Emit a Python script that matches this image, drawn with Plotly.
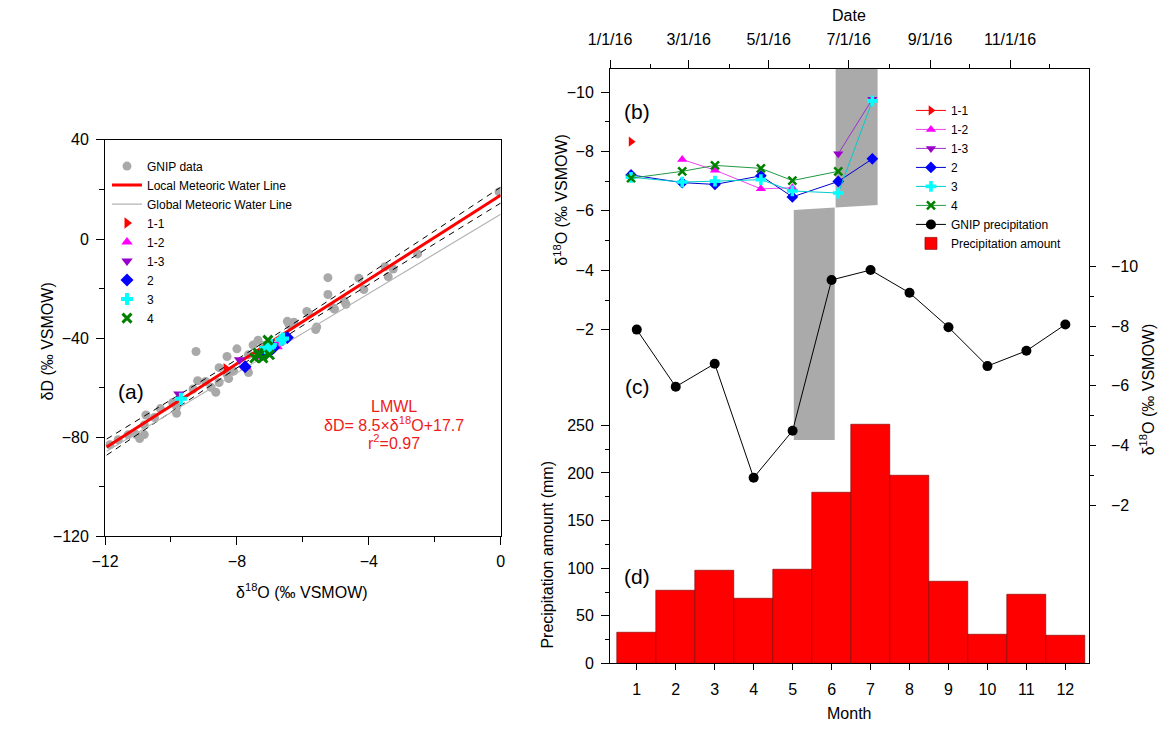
import plotly.graph_objects as go

W, H = 1167, 733
FONT = "Liberation Sans, Arial, sans-serif"

# ---------------- Panel (a): dD vs d18O ----------------
gnip_d18o = [-11.85, -11.6, -11.3, -11.06, -10.95, -10.81, -10.81, -10.76, -10.5, -10.32,
             -9.95, -9.83, -9.83, -9.33, -9.24, -9.19, -8.95, -8.79, -8.64, -8.54,
             -8.54, -8.30, -8.30, -8.25, -8.10, -8.0, -7.65, -7.65, -7.51, -7.36,
             -7.2, -6.47, -6.42, -6.27, -5.88, -5.83, -5.61, -5.58, -5.24, -5.24,
             -5.09, -5.04, -4.74, -4.69, -4.30, -4.15, -3.51, -3.41, -3.26, -2.52, -0.05]
gnip_dd = [-83.0, -81.0, -79.0, -78.9, -80.5, -75.0, -78.9, -71.0, -72.0, -68.4,
           -66.0, -67.7, -70.3, -60.5, -45.4, -57.2, -57.5, -59.8, -61.8, -51.9,
           -57.9, -47.4, -54.6, -56.3, -53.3, -44.3, -46.7, -53.9, -42.8, -40.8,
           -43.0, -33.2, -34.5, -33.6, -29.2, -30.0, -36.5, -35.5, -15.6, -22.4,
           -27.7, -28.3, -25.0, -26.3, -15.8, -20.4, -11.2, -15.2, -12.1, -6.0, 19.0]

lmwl_x = [-11.95, 0.0]
lmwl_y = [-83.9, 17.7]
gmwl_x = [-11.95, 0.0]
gmwl_y = [-85.6, 10.0]
band_x = [-11.95, -10, -8, -6, -4, -2, 0]
band_upper = [-80.7, -64.9, -48.6, -31.7, -14.3, 3.3, 20.9]
band_lower = [-87.2, -69.7, -52.0, -34.9, -18.3, -1.9, 14.5]

site_a = {
    "1-1": ([-8.33], [-52.3]),
    "1-2": ([-7.73, -7.37, -6.74, -6.78], [-51.5, -47.5, -42.0, -43.5]),
    "1-3": ([-7.92, -9.76], [-48.7, -62.5]),
    "2": ([-7.21, -6.95, -6.89, -7.18, -6.47, -6.99, -7.75], [-45.8, -44.5, -43.9, -46.0, -39.7, -45.0, -51.5]),
    "3": ([-7.13, -6.97, -7.0, -7.05, -6.67, -6.60, -9.70], [-44.0, -42.8, -43.5, -44.2, -40.6, -40.1, -64.4]),
    "4": ([-7.36, -7.21, -7.46, -7.06, -7.01, -7.33], [-46.0, -48.0, -48.0, -40.8, -46.7, -47.0]),
}

# ---------------- Panel (b): site d18O by date ----------------
b_dates = ["2016-01-17", "2016-02-25", "2016-03-21", "2016-04-25", "2016-05-19", "2016-06-23", "2016-07-19"]
site_b = {
    "1-1": (b_dates[0:1], [-8.33]),
    "1-2": (b_dates[1:5], [-7.73, -7.37, -6.74, -6.78]),
    "1-3": (b_dates[5:7], [-7.92, -9.76]),
    "2": (b_dates, [-7.21, -6.95, -6.89, -7.18, -6.47, -6.99, -7.75]),
    "3": (b_dates, [-7.13, -6.97, -7.0, -7.05, -6.67, -6.60, -9.70]),
    "4": (b_dates[0:6], [-7.10, -7.33, -7.53, -7.43, -7.02, -7.33]),
}

# ---------------- Panels (c) and (d): monthly ----------------
months = list(range(1, 13))
gnip_month_d18o = [-7.88, -5.97, -6.74, -2.93, -4.50, -9.54, -9.87, -9.11, -7.96, -6.66, -7.17, -8.05]
precip_mm = [32.2, 76.4, 97.3, 68.5, 99.0, 179.8, 251.0, 197.3, 86.3, 30.8, 72.6, 29.5]

date_ticks = ["2016-01-01", "2016-03-01", "2016-05-01", "2016-07-01", "2016-09-01", "2016-11-01"]
date_ticktext = ["1/1/16", "3/1/16", "5/1/16", "7/1/16", "9/1/16", "11/1/16"]
date_minor = ["2016-02-01", "2016-04-01", "2016-06-01", "2016-08-01", "2016-10-01", "2016-12-01"]

# shaded sampling period (upper: date axis / lower: month axis)
shade_dates = ["2016-06-21", "2016-07-23"]
shade_months = [5.03, 6.08]
shade_slant = [-6.03, -6.11, -6.20]   # left, junction, right (panel b units)
shade_bottom = 1.71

styles = {
    "1-1": dict(symbol="triangle-right", color="#ff0000", line="#ff0000"),
    "1-2": dict(symbol="triangle-up", color="#ff00ff", line="#ee44ee"),
    "1-3": dict(symbol="triangle-down", color="#9900cc", line="#9933cc"),
    "2": dict(symbol="diamond", color="#0000ff", line="#0000cc"),
    "3": dict(symbol="cross", color="#00ffff", line="#00cccc"),
    "4": dict(symbol="x-thin", color="#008000", line="#229944"),
}

fig = go.Figure()

# ---- (a) traces ----
fig.add_trace(go.Scatter(x=gnip_d18o, y=gnip_dd, mode="markers", name="GNIP data",
                         marker=dict(color="#a9a9a9", size=9), xaxis="x", yaxis="y",
                         legend="legend", legendrank=1))
fig.add_trace(go.Scatter(x=band_x, y=band_upper, mode="lines", showlegend=False,
                         line=dict(color="black", width=1, dash="6px,5px"), xaxis="x", yaxis="y"))
fig.add_trace(go.Scatter(x=band_x, y=band_lower, mode="lines", showlegend=False,
                         line=dict(color="black", width=1, dash="6px,5px"), xaxis="x", yaxis="y"))
fig.add_trace(go.Scatter(x=gmwl_x, y=gmwl_y, mode="lines", name="Global Meteoric Water Line",
                         line=dict(color="#b4b4b4", width=1.2), xaxis="x", yaxis="y",
                         legend="legend", legendrank=3))
fig.add_trace(go.Scatter(x=lmwl_x, y=lmwl_y, mode="lines", name="Local Meteoric Water Line",
                         line=dict(color="#ff0000", width=3), xaxis="x", yaxis="y",
                         legend="legend", legendrank=2))
for i, (k, (xs, ys)) in enumerate(site_a.items()):
    st = styles[k]
    mk = dict(symbol=st["symbol"], color=st["color"], size=10)
    if st["symbol"] == "x-thin":
        mk = dict(symbol="x-thin", size=9, line=dict(color=st["color"], width=3))
    fig.add_trace(go.Scatter(x=xs, y=ys, mode="markers", name=k, marker=mk,
                             xaxis="x", yaxis="y", legend="legend", legendrank=10 + i))

# ---- (d) bars ----
fig.add_trace(go.Bar(x=months, y=precip_mm, width=1.0, name="Precipitation amount",
                     marker=dict(color="#ff0000", line=dict(color="#7a0000", width=0.6)),
                     xaxis="x2", yaxis="y2", legend="legend2", legendrank=100))

# ---- (c) GNIP monthly line ----
fig.add_trace(go.Scatter(x=months, y=gnip_month_d18o, mode="lines+markers", name="GNIP precipitation",
                         line=dict(color="black", width=1), marker=dict(color="black", size=10),
                         xaxis="x2", yaxis="y4", legend="legend2", legendrank=90))

# ---- (b) site series ----
for i, (k, (xs, ys)) in enumerate(site_b.items()):
    st = styles[k]
    mk = dict(symbol=st["symbol"], color=st["color"], size=9)
    if st["symbol"] == "x-thin":
        mk = dict(symbol="x-thin", size=8, line=dict(color=st["color"], width=2.5))
    fig.add_trace(go.Scatter(x=xs, y=ys, mode="lines+markers", name=k, marker=mk,
                             line=dict(color=st["line"], width=1),
                             xaxis="x3", yaxis="y3", legend="legend2", legendrank=20 + i))

# ---- grey shading ----
upper_path = (f"M{shade_dates[0]},-12 L{shade_dates[1]},-12 "
              f"L{shade_dates[1]},{shade_slant[2]} L{shade_dates[0]},{shade_slant[1]} Z")
lower_path = (f"M{shade_months[0]},{shade_slant[0]} L{shade_months[1]},{shade_slant[1]} "
              f"L{shade_months[1]},{shade_bottom} L{shade_months[0]},{shade_bottom} Z")
shapes = [
    dict(type="path", path=upper_path, xref="x3", yref="y3", fillcolor="#aaaaaa",
         line=dict(width=0), layer="below"),
    dict(type="path", path=lower_path, xref="x2", yref="y3", fillcolor="#aaaaaa",
         line=dict(width=0), layer="below"),
]

tickfont = dict(family=FONT, size=16, color="black")
common = dict(showgrid=False, zeroline=False, showline=True, linecolor="black", linewidth=1,
              ticks="outside", tickcolor="black", tickwidth=1, tickfont=tickfont)

def minor(vals, ln=4):
    return dict(tickvals=vals, ticks="outside", ticklen=ln, tickcolor="black", tickwidth=1, showgrid=False)

layout = dict(
    width=W, height=H, margin=dict(l=0, r=0, t=0, b=0),
    paper_bgcolor="white", plot_bgcolor="rgba(0,0,0,0)",
    font=dict(family=FONT, size=16, color="black"),
    bargap=0, shapes=shapes,
    xaxis=dict(domain=[85 / W, 490 / W], range=[-12, 0], anchor="y",
               tickvals=[-12, -8, -4, 0], ticklen=8, mirror=True, ticklabelstandoff=2,
               minor=minor([-10, -6, -2], 5), **common),
    yaxis=dict(domain=[1 - 541 / H, 1 - 135 / H], range=[-120, 40], anchor="x",
               tickvals=[-120, -80, -40, 0, 40], ticklen=8, mirror=True, ticklabelstandoff=4,
               minor=minor([-100, -60, -20, 20], 5), **common),
    xaxis2=dict(domain=[602 / W, 1092 / W], range=[0.315, 12.6], anchor="y2",
                tickvals=months, ticklen=6, ticklabelstandoff=5, **common),
    yaxis2=dict(domain=[1 - 671 / H, 1 - 62 / H], range=[0, 624.7], anchor="x2",
                tickvals=[0, 50, 100, 150, 200, 250], ticklen=8, ticklabelstandoff=4,
                minor=minor([25, 75, 125, 175, 225]), **common),
    xaxis3=dict(overlaying="x2", side="top", anchor="y3", type="date",
                range=["2016-01-01", "2016-12-31"], tickvals=date_ticks, ticktext=date_ticktext,
                ticklen=8, ticklabelstandoff=8, minor=minor(date_minor), **common),
    yaxis3=dict(overlaying="y2", side="left", anchor="x3", range=[9.231, -10.789],
                tickvals=[-10, -8, -6, -4, -2], ticklen=8, ticklabelstandoff=4,
                minor=minor([-9, -7, -5, -3]), **common),
    yaxis4=dict(overlaying="y2", side="right", anchor="x2", range=[3.280, -16.606],
                tickvals=[-10, -8, -6, -4, -2], ticklen=6, ticklabelstandoff=12,
                minor=minor([-9, -7, -5, -3]), **common),
    legend=dict(x=87 / W, y=1 - 147 / H, xanchor="left", yanchor="top",
                bgcolor="rgba(0,0,0,0)", font=dict(family=FONT, size=12, color="black"),
                tracegroupgap=0, itemsizing="trace", traceorder="normal"),
    legend2=dict(x=910 / W, y=1 - 90 / H, xanchor="left", yanchor="top",
                 bgcolor="rgba(0,0,0,0)", font=dict(family=FONT, size=12, color="black"),
                 tracegroupgap=0, itemsizing="trace", traceorder="normal"),
)
fig.update_layout(**layout)

def ann(text, x, y, size=16, color="black", angle=0, xanchor="center"):
    fig.add_annotation(text=text, x=x / W, y=1 - y / H, xref="paper", yref="paper",
                       showarrow=False, textangle=angle, xanchor=xanchor, yanchor="middle",
                       font=dict(family=FONT, size=size, color=color))

# axis titles
ann("δD (‰ VSMOW)", 26, 341, angle=-90)
ann("δ<sup>18</sup>O (‰ VSMOW)", 287, 597)
ann("δ<sup>18</sup>O (‰ VSMOW)", 552, 196, angle=-90)
ann("Precipitation amount (mm)", 537, 560, angle=-90)
ann("δ<sup>18</sup>O (‰ VSMOW)", 1152, 390, angle=-90)
ann("Month", 847, 722)
ann("Date", 847, 8)
# panel labels
ann("(a)", 112, 393, size=21)
ann("(b)", 630, 106, size=21)
ann("(c)", 630, 387, size=21)
ann("(d)", 630, 582, size=21)
# LMWL text
ann("LMWL", 381, 408, color="#ee1c1c")
ann("δD= 8.5×δ<sup>18</sup>O+17.7", 381, 426, color="#ee1c1c")
ann("r<sup>2</sup>=0.97", 381, 444, color="#ee1c1c")

fig.write_html("out.html", config={"displayModeBar": False},
               post_script="document.body.style.margin='0';document.body.style.overflow='hidden';")
